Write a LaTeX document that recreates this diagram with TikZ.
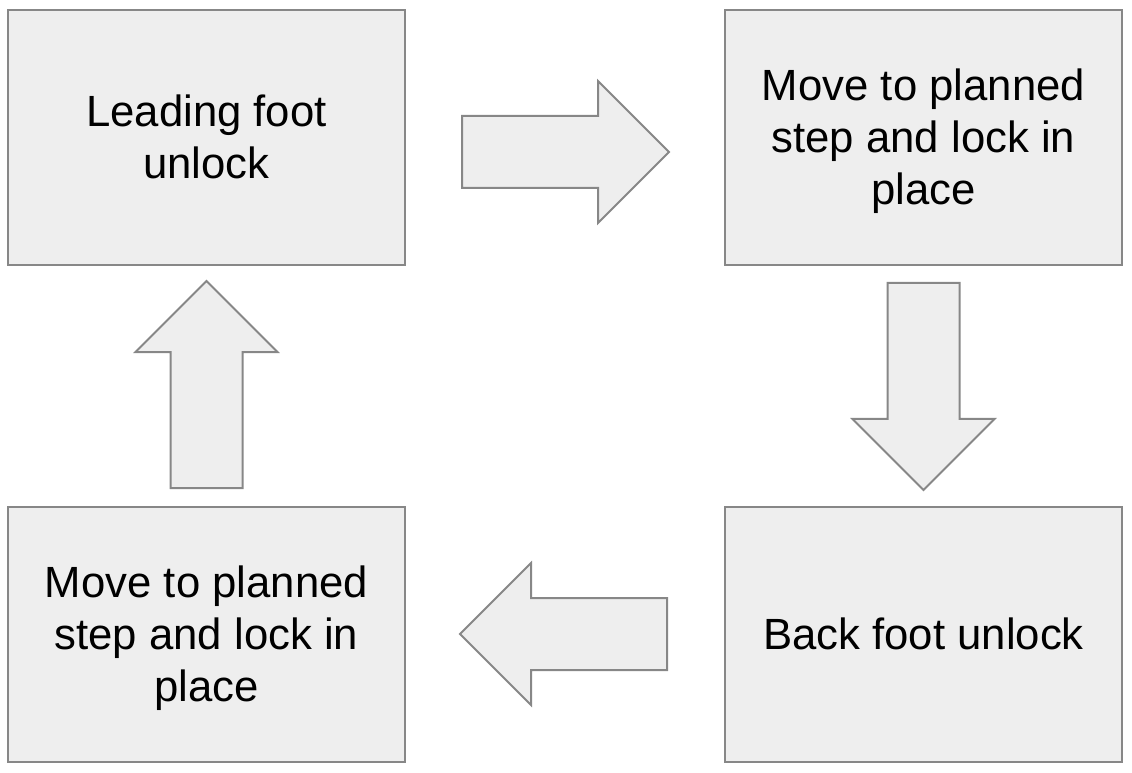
\documentclass[tikz,border=0pt]{standalone}
\usepackage{fontspec}
\setmainfont{Liberation Sans}
\usetikzlibrary{shapes.arrows}
\definecolor{boxfill}{HTML}{EEEEEE}
\definecolor{boxline}{HTML}{878787}
\newcommand{\ls}{\rule[-0.2em]{0pt}{1.1em}}
\tikzstyle{stepbox} = [draw=boxline,fill=boxfill,line width=2pt,minimum width=397pt,minimum height=255pt,align=center,font=\fontsize{43.7}{52}\selectfont]
\tikzstyle{bigarrow} = [single arrow,draw=boxline,fill=boxfill,line width=2pt,inner sep=35pt,minimum height=207pt,minimum width=140pt,single arrow head extend=35pt,anchor=tail]

\begin{document}
\begin{tikzpicture}[x=1pt,y=1pt]
\useasboundingbox (0,0) rectangle (1132,772);
\node[stepbox] (lead) at (206.5,634.5) {\ls Leading foot\\\ls unlock};
\node[stepbox] (movea) at (923.5,634.5) {\ls Move to planned\\\ls step and lock in\\\ls place};
\node[stepbox] (back) at (923.5,138) {\ls Back foot unlock};
\node[stepbox] (moveb) at (206.5,138) {\ls Move to planned\\\ls step and lock in\\\ls place};
\node[bigarrow] (arr1) at (461,620) {};
\node[bigarrow,shape border rotate=270] (arr2) at (923.5,490) {};
\node[bigarrow,shape border rotate=180] (arr3) at (668,138) {};
\node[bigarrow,shape border rotate=90] (arr4) at (206.5,283) {};
\end{tikzpicture}
\end{document}
